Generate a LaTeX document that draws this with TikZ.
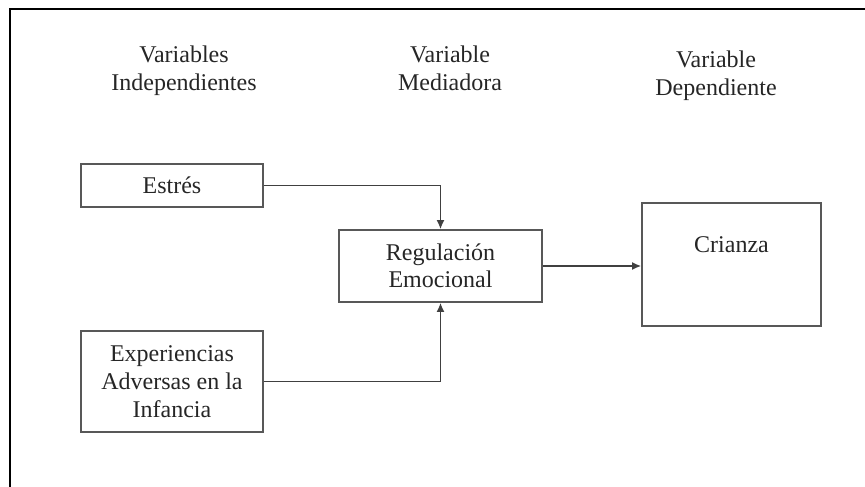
\documentclass[tikz,border=0pt]{standalone}
\usepackage{fontspec}
\setmainfont{Liberation Serif}
\usetikzlibrary{arrows.meta}
\definecolor{txtc}{HTML}{262626}
\definecolor{boxc}{HTML}{585858}
\definecolor{arrc}{HTML}{404040}
\tikzset{
  lbl/.style={inner sep=0pt, align=center, text=txtc, font=\fontsize{24}{28}\selectfont},
  varbox/.style={draw=boxc, line width=1.8pt, rectangle, inner sep=0pt, align=center, text=txtc, font=\fontsize{24}{28}\selectfont},
  conn/.style={draw=arrc, line width=1.4pt, -{Latex[length=9pt,width=8pt]}}
}
\begin{document}
\begin{tikzpicture}[x=1pt,y=-1pt]
\useasboundingbox (0,0) rectangle (865,487);
\fill[white] (0,0) rectangle (865,487);
% outer frame (left and top edges)
\draw[black, line width=2.6pt] (10,487) -- (10,9) -- (865,9);
% headers
\node[lbl, anchor=north] (h1) at (184,46) {Variables\\Independientes};
\node[lbl, anchor=north] (h2) at (450,46) {Variable\\Mediadora};
\node[lbl, anchor=north] (h3) at (716,51) {Variable\\Dependiente};
% boxes
\node[varbox, minimum width=182pt, minimum height=43pt] (estres) at (172,185.5) {Estrés};
\node[varbox, minimum width=182pt, minimum height=101pt] (exp) at (172,381.5) {Experiencias\\Adversas en la\\Infancia};
\node[varbox, minimum width=203pt, minimum height=72pt, font=\fontsize{24}{27}\selectfont] (reg) at (440.5,266) {Regulación\\Emocional};
\node[varbox, minimum width=179pt, minimum height=123pt] (crianza) at (731.5,264.5) {};
\node[lbl] (crianzat) at (731.5,245) {Crianza};
% connectors
\draw[conn] (estres.east) -| (reg.north);
\draw[conn] (exp.east) -| (reg.south);
\draw[conn] (reg.east) -- (reg.east -| crianza.west);
\end{tikzpicture}
\end{document}
